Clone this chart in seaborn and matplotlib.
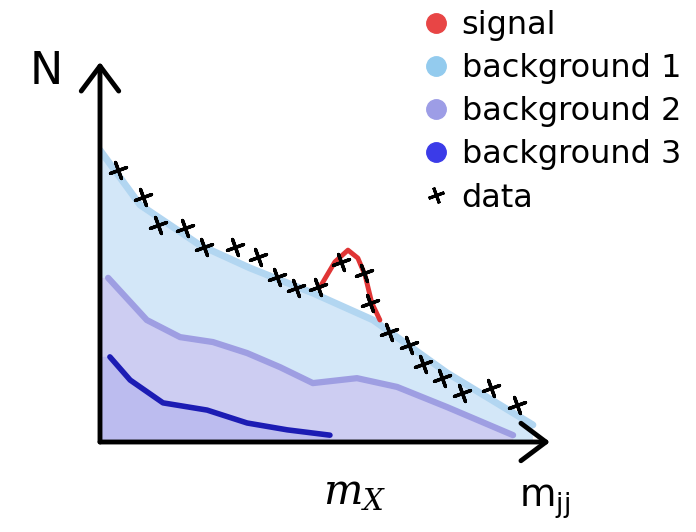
import numpy as np
import seaborn as sns
import matplotlib.pyplot as plt
from matplotlib.lines import Line2D

sns.set_style("white")
plt.rcParams['font.family'] = ['DejaVu Sans']
plt.rcParams['text.color'] = 'black'

# data crosses (m_jj, N) in arbitrary units
data_x = [4.0, 9.6, 12.9, 18.9, 23.1, 30.0, 35.1, 39.3, 43.6, 48.4,
          53.6, 58.7, 60.0, 64.2, 68.7, 71.8, 76.0, 80.4, 86.9, 92.7]
data_y = [71.6, 64.5, 57.1, 56.3, 51.3, 51.3, 48.7, 43.4, 40.5, 40.8,
          47.4, 44.5, 36.6, 28.9, 25.5, 20.5, 16.8, 12.9, 14.2, 9.7]

# background 1 (top of the stack)
bg1_x = [0, 8.9, 22.2, 33.3, 47.3, 60.7, 77.1, 96.2]
bg1_y = [76.8, 62.4, 51.8, 45.8, 39.2, 32.1, 18.2, 4.5]

# background 2
bg2_x = [1.8, 10.4, 17.8, 25.1, 32.7, 40.0, 47.3, 57.1, 66.0, 77.1, 91.8]
bg2_y = [43.2, 32.1, 27.6, 26.3, 23.4, 19.7, 15.5, 16.8, 14.5, 9.2, 1.8]

# background 3
bg3_x = [2.2, 6.7, 14.0, 23.8, 32.7, 41.6, 51.1]
bg3_y = [22.4, 16.3, 10.3, 8.4, 5.0, 3.2, 1.8]

# signal bump on top of background 1
sig_x = [48.9, 52.2, 55.1, 57.3, 58.9, 60.4, 62.2]
sig_y = [40.8, 47.4, 50.5, 48.4, 43.9, 36.6, 32.1]

labels = ["signal", "background 1", "background 2", "background 3", "data"]
legend_colors = ["#e84545", "#93cbee", "#9d9de6", "#3b3be8", "black"]

fig = plt.figure(figsize=(6.96, 5.32), dpi=100)
ax = fig.add_axes([100 / 696, 90 / 532, 450 / 696, 380 / 532])
ax.set_xlim(0, 100)
ax.set_ylim(0, 100)
ax.axis("off")


def stack_fill(xs, ys, color, z):
    px = np.r_[0, xs, xs[-1], 0]
    py = np.r_[ys[0], ys, 0, 0]
    ax.fill(px, py, color=color, lw=0, zorder=z)


stack_fill(bg1_x, bg1_y, "#d3e7f8", 1)
sns.lineplot(x=bg1_x, y=bg1_y, sort=False, color="#b2d6f1", lw=5, ax=ax, zorder=2)
stack_fill(bg2_x, bg2_y, "#cdcdf2", 3)
sns.lineplot(x=bg2_x, y=bg2_y, sort=False, color="#9e9ee2", lw=4.5, ax=ax, zorder=4)
stack_fill(bg3_x, bg3_y, "#bcbcef", 5)
sns.lineplot(x=bg3_x, y=bg3_y, sort=False, color="#1c1cb4", lw=4, ax=ax, zorder=6)
sns.lineplot(x=sig_x, y=sig_y, sort=False, color="#e03535", lw=3.5, ax=ax, zorder=7)
ax.scatter(data_x, data_y, marker=(4, 2, 20), s=150, color="black", lw=2.4, zorder=8)

# hand-drawn style axes arrows
arrow = dict(arrowstyle="->,head_length=0.6,head_width=0.45", lw=3.5, color="black",
             mutation_scale=30, shrinkA=0, shrinkB=0)
ax.annotate("", xy=(0, 1), xytext=(0, 0), xycoords="axes fraction",
            arrowprops=arrow, annotation_clip=False, zorder=10)
ax.annotate("", xy=(1, 0), xytext=(0, 0), xycoords="axes fraction",
            arrowprops=arrow, annotation_clip=False, zorder=10)

fig.text(46 / 696, 1 - 71 / 532, "N", fontsize=32, ha="center", va="center")
fig.text(355 / 696, 1 - 492 / 532, "$m_X$", fontsize=30, ha="center", va="center",
         math_fontfamily="dejavuserif")
fig.text(545 / 696, 1 - 502 / 532, r"$\mathrm{m}_{\mathrm{jj}}$", fontsize=27,
         ha="center", va="center", math_fontfamily="dejavusans")

handles = [Line2D([], [], ls="", marker="o", ms=14, color=c) for c in legend_colors[:4]]
handles.append(Line2D([], [], ls="", marker=(4, 2, 20), ms=12, mew=2.2, color="black"))
fig.legend(handles, labels, loc="upper left", bbox_to_anchor=(420 / 696, 1 - 10 / 532),
           frameon=False, fontsize=23, handlelength=1.0, handletextpad=0.3,
           labelspacing=0.38, borderpad=0, borderaxespad=0)

fig.savefig("out.png", dpi=100)
